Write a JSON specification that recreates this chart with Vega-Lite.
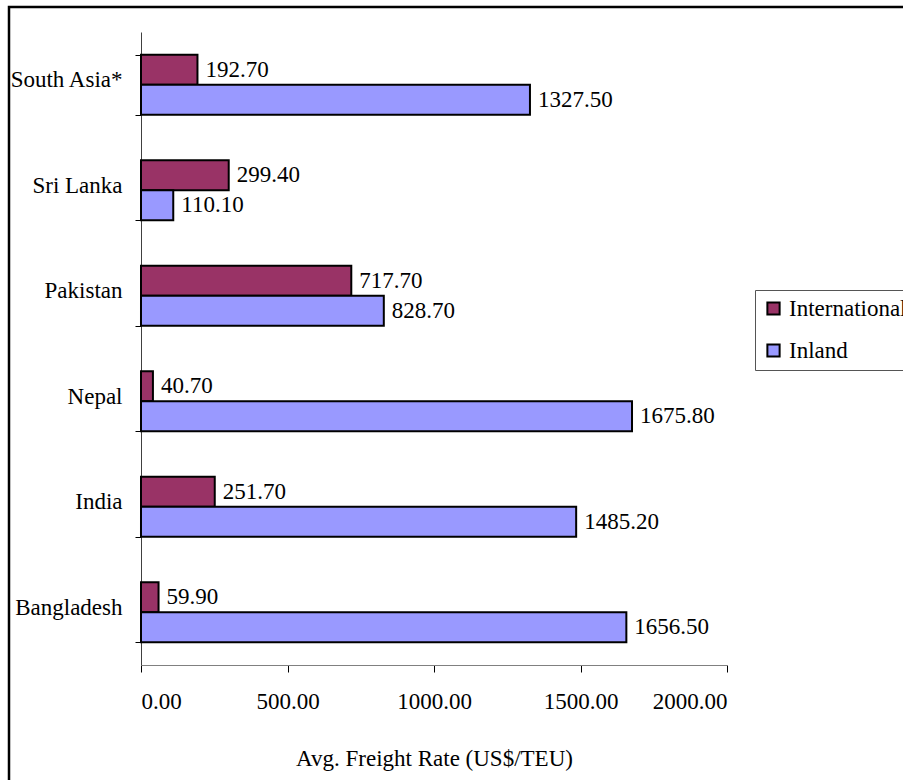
{
  "$schema": "https://vega.github.io/schema/vega-lite/v6.json",
  "autosize": "none",
  "width": 900,
  "height": 780,
  "padding": {"left": 9, "top": 7, "right": 0, "bottom": 0},
  "background": "white",
  "config": {
    "view": {"stroke": "black", "strokeWidth": 2.5},
    "font": "'Liberation Serif', 'Times New Roman', serif",
    "text": {"font": "'Liberation Serif', 'Times New Roman', serif"}
  },
  "data": {
    "values": [
      {"region": "South Asia*", "series": "International", "value": 192.7},
      {"region": "South Asia*", "series": "Inland", "value": 1327.5},
      {"region": "Sri Lanka", "series": "International", "value": 299.4},
      {"region": "Sri Lanka", "series": "Inland", "value": 110.1},
      {"region": "Pakistan", "series": "International", "value": 717.7},
      {"region": "Pakistan", "series": "Inland", "value": 828.7},
      {"region": "Nepal", "series": "International", "value": 40.7},
      {"region": "Nepal", "series": "Inland", "value": 1675.8},
      {"region": "India", "series": "International", "value": 251.7},
      {"region": "India", "series": "Inland", "value": 1485.2},
      {"region": "Bangladesh", "series": "International", "value": 59.9},
      {"region": "Bangladesh", "series": "Inland", "value": 1656.5}
    ]
  },
  "encoding": {
    "y": {
      "field": "region",
      "type": "nominal",
      "sort": ["South Asia*", "Sri Lanka", "Pakistan", "Nepal", "India", "Bangladesh"],
      "scale": {"range": [25, 658], "paddingInner": 0.43, "paddingOuter": 0.215},
      "axis": {
        "title": null,
        "orient": "left",
        "offset": -132,
        "domainColor": "#404040",
        "domainWidth": 1,
        "tickColor": "black",
        "tickSize": 6,
        "tickBand": "extent",
        "labelPadding": 13,
        "labelFontSize": 23,
        "labelColor": "black",
        "labelFont": "'Liberation Serif', 'Times New Roman', serif",
        "labelOffset": -5,
        "grid": false
      }
    },
    "yOffset": {
      "field": "series",
      "type": "nominal",
      "sort": ["International", "Inland"],
      "scale": {"paddingInner": 0}
    },
    "x": {
      "field": "value",
      "type": "quantitative",
      "scale": {"domain": [0, 2000], "range": [132, 718]},
      "axis": {
        "orient": "bottom",
        "offset": -122,
        "values": [0, 500, 1000, 1500, 2000],
        "format": ".2f",
        "grid": false,
        "domainColor": "#808080",
        "tickColor": "black",
        "tickSize": 7,
        "labelPadding": 18,
        "labelFontSize": 23,
        "labelColor": "black",
        "labelFont": "'Liberation Serif', 'Times New Roman', serif",
        "title": "Avg. Freight Rate (US$/TEU)",
        "titleFont": "'Liberation Serif', 'Times New Roman', serif",
        "titleFontSize": 23,
        "titleFontWeight": "normal",
        "titleColor": "black",
        "titleBaseline": "alphabetic",
        "titleY": 100
      }
    }
  },
  "layer": [
    {
      "mark": {"type": "bar", "stroke": "black", "strokeWidth": 2},
      "encoding": {
        "color": {
          "field": "series",
          "type": "nominal",
          "scale": {"domain": ["International", "Inland"], "range": ["#993366", "#9999FF"]},
          "legend": {
            "title": null,
            "orient": "none",
            "legendX": 746,
            "legendY": 283,
            "direction": "vertical",
            "strokeColor": "#555555",
            "fillColor": "white",
            "padding": 7,
            "symbolType": "square",
            "symbolSize": 150,
            "symbolStrokeColor": "black",
            "symbolStrokeWidth": 2,
            "symbolOpacity": 1,
            "labelFontSize": 23,
            "labelFont": "'Liberation Serif', 'Times New Roman', serif",
            "labelColor": "black",
            "labelOffset": 4,
            "rowPadding": 18,
            "labelLimit": 300
          }
        }
      }
    },
    {
      "mark": {"type": "text", "align": "left", "baseline": "middle", "dx": 8, "fontSize": 23, "color": "black", "font": "'Liberation Serif', 'Times New Roman', serif"},
      "encoding": {
        "text": {"field": "value", "type": "quantitative", "format": ".2f"}
      }
    }
  ]
}
